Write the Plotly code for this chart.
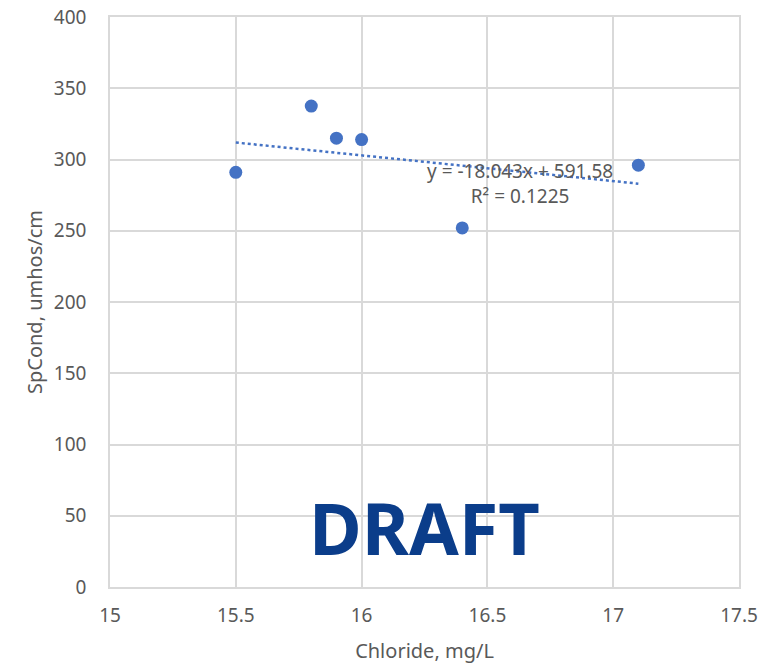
import plotly.graph_objects as go

# Chloride vs specific conductance samples
chloride = [15.5, 15.8, 15.9, 16.0, 16.4, 17.1]
spcond = [291, 337.5, 315, 314, 252, 296]

# Linear trendline coefficients
slope = -18.043
intercept = 591.58
r_squared = 0.1225

x_ticks = [15, 15.5, 16, 16.5, 17, 17.5]
y_ticks = [0, 50, 100, 150, 200, 250, 300, 350, 400]

trend_x = [min(chloride), max(chloride)]
trend_y = [slope * v + intercept for v in trend_x]

GRID = "#d9d9d9"
TEXT = "#595959"
BLUE = "#4472c4"
FONT = "Noto Sans"

fig = go.Figure()
fig.add_trace(go.Scatter(
    x=trend_x, y=trend_y, mode="lines",
    line=dict(color=BLUE, width=2.5, dash="dot"),
    hoverinfo="skip", showlegend=False,
))
fig.add_trace(go.Scatter(
    x=chloride, y=spcond, mode="markers",
    marker=dict(color=BLUE, size=13),
    showlegend=False,
))

fig.add_annotation(
    x=16.63, y=283, xref="x", yref="y",
    text=f"y = {slope}x + {intercept}<br>R² = {r_squared}",
    showarrow=False, align="center",
    font=dict(family=FONT, size=19, color=TEXT),
    yanchor="middle",
)
fig.add_annotation(
    x=0.5, y=0.015, xref="paper", yref="paper",
    text="<b>DRAFT</b>", showarrow=False,
    font=dict(family=FONT, size=72, color="#0b3d8a"),
)

fig.update_layout(
    width=784, height=666,
    margin=dict(l=110, r=45, t=17, b=79),
    paper_bgcolor="white", plot_bgcolor="white",
    font=dict(family=FONT, color=TEXT, size=20),
    xaxis=dict(
        range=[15, 17.5], tickvals=x_ticks, ticktext=[f"{v:g}" for v in x_ticks],
        showgrid=True, gridcolor=GRID, gridwidth=1.5,
        showline=True, linecolor=GRID, linewidth=1.5, mirror=True,
        zeroline=False, ticks="", ticklabelstandoff=10, automargin=False,
        title=dict(text="Chloride, mg/L", standoff=17,
                   font=dict(family=FONT, size=20, color=TEXT)),
        tickfont=dict(family=FONT, size=19, color=TEXT),
    ),
    yaxis=dict(
        range=[0, 400], tickvals=y_ticks,
        showgrid=True, gridcolor=GRID, gridwidth=1.5,
        showline=True, linecolor=GRID, linewidth=1.5, mirror=True,
        zeroline=False, ticks="", ticklabelstandoff=18, automargin=False,
        title=dict(text="SpCond, umhos/cm", standoff=6,
                   font=dict(family=FONT, size=20, color=TEXT)),
        tickfont=dict(family=FONT, size=19, color=TEXT),
    ),
)

fig.write_html("out.html")
